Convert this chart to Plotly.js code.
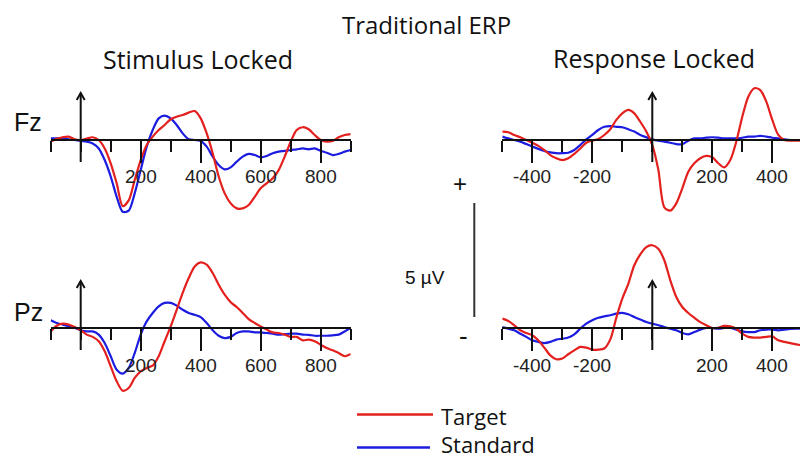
<!DOCTYPE html>
<html>
<head>
<meta charset="utf-8">
<script src="https://cdn.plot.ly/plotly-3.0.1.min.js"></script>
<style>html,body{margin:0;padding:0;background:#fff;}#chart{width:800px;height:458px;}</style>
</head>
<body>
<div id="chart"></div>
<script>
// ---------------- DATA (µV, ms) ----------------
const stimTime = [-100,-80,-60,-40,-20,0,20,40,60,80,100,120,140,160,180,200,220,240,260,280,300,320,340,360,380,400,420,440,460,480,500,520,540,560,580,600,620,640,660,680,700,720,740,760,780,800,820,840,860,880,900];
const respTime = [-500,-480,-460,-440,-420,-400,-380,-360,-340,-320,-300,-280,-260,-240,-220,-200,-180,-160,-140,-120,-100,-80,-60,-40,-20,0,20,40,60,80,100,120,140,160,180,200,220,240,260,280,300,320,340,360,380,400,420,440,460,480,500];

const stimFzTarget = [-0.07,0.05,0.12,0.15,0.03,0,0.06,0.12,0,-0.37,-1.02,-1.9,-2.9,-2.65,-1.75,-0.88,-0.22,0.15,0.44,0.66,0.91,1.02,1.1,1.2,1.27,0.95,0.29,-0.58,-1.6,-2.34,-2.78,-3.0,-3.0,-2.85,-2.49,-2.12,-1.9,-1.68,-1.32,-0.73,-0.07,0.44,0.56,0.47,0.22,0,-0.07,-0.04,0.12,0.22,0.26];
const stimFzStandard = [0.07,0.07,0.07,0.03,0,-0.04,-0.07,-0.15,-0.37,-0.88,-1.6,-2.49,-3.15,-3.1,-2.34,-1.32,-0.29,0.44,0.95,1.07,0.95,0.66,0.29,0.03,0,-0.04,-0.29,-0.73,-1.1,-1.29,-1.2,-0.95,-0.73,-0.61,-0.66,-0.76,-0.7,-0.58,-0.51,-0.48,-0.44,-0.41,-0.37,-0.41,-0.37,-0.47,-0.56,-0.66,-0.61,-0.51,-0.44];
const stimPzTarget = [-0.15,0.1,0.19,0.15,0.04,-0.1,-0.29,-0.39,-0.58,-1.02,-1.68,-2.34,-2.75,-2.63,-2.19,-1.9,-1.75,-1.65,-1.24,-0.58,0.07,0.8,1.54,2.19,2.7,2.88,2.78,2.41,1.9,1.46,1.13,0.92,0.66,0.39,0.22,0.07,-0.07,-0.19,-0.22,-0.29,-0.39,-0.39,-0.54,-0.51,-0.58,-0.73,-0.88,-0.98,-1.1,-1.24,-1.14];
const stimPzStandard = [0.34,0.22,0.15,0.07,0,-0.1,-0.15,-0.15,-0.29,-0.66,-1.24,-1.83,-2.0,-1.75,-1.1,-0.29,0.29,0.66,0.95,1.1,1.1,0.98,0.8,0.66,0.58,0.48,0.22,-0.1,-0.34,-0.44,-0.39,-0.22,-0.15,-0.15,-0.19,-0.19,-0.22,-0.25,-0.29,-0.27,-0.25,-0.25,-0.29,-0.3,-0.34,-0.34,-0.34,-0.32,-0.29,-0.15,0];
const respFzTarget = [0.37,0.34,0.22,0.12,0,-0.12,-0.26,-0.44,-0.66,-0.8,-0.88,-0.8,-0.61,-0.37,-0.12,-0.03,0.04,0.22,0.47,0.88,1.17,1.32,1.17,0.8,0.37,-0.22,-1.3,-2.95,-3.1,-2.78,-2.12,-1.39,-1.02,-0.8,-0.7,-0.76,-1.02,-1.2,-0.88,-0.07,1.02,1.9,2.27,2.19,1.68,0.88,0.22,0,-0.03,-0.03,-0.03];
const respFzStandard = [0.15,0.07,0,-0.07,-0.18,-0.29,-0.39,-0.48,-0.54,-0.58,-0.58,-0.56,-0.44,-0.22,0.03,0.22,0.44,0.58,0.61,0.58,0.56,0.47,0.37,0.22,0.12,0.03,-0.03,-0.07,-0.12,-0.18,-0.18,-0.03,0.07,0.07,0.1,0.12,0.1,0.07,0.07,0.07,0.1,0.15,0.15,0.18,0.15,0.1,0.07,0.03,0,0,0];
const respPzTarget = [0.41,0.31,0.12,-0.1,-0.22,-0.32,-0.54,-0.86,-1.2,-1.37,-1.34,-1.15,-0.98,-0.83,-0.86,-0.95,-0.95,-0.9,-0.5,0.45,1.29,1.94,2.75,3.23,3.55,3.63,3.48,2.97,2.09,1.36,0.92,0.66,0.45,0.26,0.12,0,0.01,0.09,0.07,-0.03,-0.25,-0.39,-0.42,-0.42,-0.39,-0.37,-0.54,-0.61,-0.66,-0.72,-0.76];
const respPzStandard = [0.04,-0.03,-0.1,-0.25,-0.39,-0.54,-0.61,-0.66,-0.61,-0.51,-0.47,-0.42,-0.28,-0.03,0.19,0.34,0.45,0.51,0.56,0.63,0.66,0.6,0.48,0.37,0.26,0.19,0.12,0.04,-0.03,-0.1,-0.22,-0.28,-0.18,-0.07,0,0,-0.03,0,0,-0.07,-0.15,-0.18,-0.18,-0.1,-0.07,-0.07,-0.1,-0.07,-0.04,-0.03,-0.03];

const stimMajorTicks = [200,400,600,800];
const stimMinorTicks = [-100,0,100,300,500,700,900];
const respMajorTicks = [-400,-200,200,400];
const respMinorTicks = [-500,-300,-100,0,100,300];
const stimTickText = ["200","400","600","800"];
const respTickText = ["-400","-200","200","400"];
const seriesNames = ["Target","Standard"];
const channelNames = ["Fz","Pz"];
const scaleLabel = "5 µV";
const scaleMicroVolts = 5;

// ---------------- GEOMETRY ----------------
const W = 800, H = 458;
const PX_PER_MS = 0.3, PX_PER_UV = 22.8;
const RED = "#e3201d", BLUE = "#1c1ce0", INK = "#111";
const stimZeroPx = 80.7, stimLeftPx = 50.7, stimRightPx = 350.7;
const respZeroPx = 652.3, respLeftPx = 502.3, respRightPx = 800;
const fzAxisPx = 140, fzTopPx = 82, fzBotPx = 225;
const pzAxisPx = 328, pzTopPx = 235, pzBotPx = 405;
const LABEL_DROP = 37;

function xRange(l, r, z){ return [(l - z)/PX_PER_MS, (r - z)/PX_PER_MS]; }
function yRange(t, b, a){ return [(a - b)/PX_PER_UV, (a - t)/PX_PER_UV]; }
const px = v => v / W, py = v => 1 - v / H;

const tickFont = {family: "Liberation Sans, Arial, sans-serif", size: 19, color: "#222"};
function xAxis(l, r, z, axisPx, major, minor){
  return {
    domain: [px(l), px(r)], range: xRange(l, r, z), anchor: "free", position: py(axisPx),
    showline: true, linecolor: INK, linewidth: 2, zeroline: false, showgrid: false,
    ticks: "outside", tickmode: "array", tickvals: major, showticklabels: false,
    ticklen: 22, tickwidth: 2, tickcolor: INK,
    minor: {tickmode: "array", tickvals: minor, ticks: "outside", ticklen: 11, tickwidth: 2, tickcolor: INK, showgrid: false},
    fixedrange: true
  };
}
function yAxis(t, b, a){
  return {domain: [py(b), py(t)], range: yRange(t, b, a), visible: false, fixedrange: true};
}

function trace(x, y, xa, ya, color, name){
  return {x: x, y: y, xaxis: xa, yaxis: ya, type: "scatter", mode: "lines", name: name,
    showlegend: false, hoverinfo: "skip",
    line: {color: color, width: 2.2, shape: "spline", smoothing: 0.8}};
}

const data = [
  trace(stimTime, stimFzStandard, "x", "y", BLUE, seriesNames[1]),
  trace(stimTime, stimFzTarget, "x", "y", RED, seriesNames[0]),
  trace(stimTime, stimPzStandard, "x2", "y2", BLUE, seriesNames[1]),
  trace(stimTime, stimPzTarget, "x2", "y2", RED, seriesNames[0]),
  trace(respTime, respFzStandard, "x3", "y3", BLUE, seriesNames[1]),
  trace(respTime, respFzTarget, "x3", "y3", RED, seriesNames[0]),
  trace(respTime, respPzStandard, "x4", "y4", BLUE, seriesNames[1]),
  trace(respTime, respPzTarget, "x4", "y4", RED, seriesNames[0])
];

// arrows at t = 0 (y-axis marker)
const shapes = [];
[["x","y"],["x2","y2"],["x3","y3"],["x4","y4"]].forEach(([xa, ya]) => {
  const ytop = 47/PX_PER_UV, ybot = -22/PX_PER_UV;
  const hw = 4/PX_PER_MS, hh = 7/PX_PER_UV;
  shapes.push({type: "line", xref: xa, yref: ya, x0: 0, x1: 0, y0: ybot, y1: ytop, line: {color: INK, width: 2}});
  shapes.push({type: "path", xref: xa, yref: ya,
    path: `M ${-hw},${ytop-hh} L 0,${ytop} L ${hw},${ytop-hh}`, line: {color: INK, width: 2}});
});
// scale bar (5 µV)
const barX = 474.3, barBottom = 317;
shapes.push({type: "line", xref: "paper", yref: "paper", x0: px(barX), x1: px(barX),
  y0: py(barBottom), y1: py(barBottom - scaleMicroVolts*PX_PER_UV), line: {color: "#333", width: 2}});
// legend lines
shapes.push({type: "line", xref: "paper", yref: "paper", x0: px(357), x1: px(433), y0: py(414.5), y1: py(414.5), line: {color: RED, width: 2.6}});
shapes.push({type: "line", xref: "paper", yref: "paper", x0: px(357), x1: px(430), y0: py(447.5), y1: py(447.5), line: {color: BLUE, width: 2.6}});

const titleFont = s => ({family: "Open Sans, Noto Sans, sans-serif", size: s, color: "#111"});
const helv = (s) => ({family: "Liberation Sans, Arial, sans-serif", size: s, color: "#111"});
function ann(text, x, y, font, xanchor){
  return {text: text, x: px(x), y: py(y), xref: "paper", yref: "paper", showarrow: false,
    xanchor: xanchor || "center", yanchor: "middle", font: font};
}
const annotations = [
  ann("Traditional ERP", 427, 24, titleFont(24)),
  ann("Stimulus Locked", 198, 59, titleFont(25)),
  ann("Response Locked", 654, 58.5, titleFont(25)),
  ann(channelNames[0], 28, 122, helv(25)),
  ann(channelNames[1], 28, 312, helv(25)),
  ann("+", 460, 183, helv(24)),
  ann("-", 464, 336, helv(26)),
  ann(scaleLabel, 425, 277, helv(19)),
  ann(seriesNames[0], 439, 416, titleFont(22), "left"),
  ann(seriesNames[1], 439, 443.5, titleFont(22), "left")
];
// tick labels placed on the axes' own scales
function tickLabels(vals, texts, xa, axisPx){
  vals.forEach((v, i) => annotations.push({text: texts[i], x: v, xref: xa, y: py(axisPx + LABEL_DROP), yref: "paper",
    showarrow: false, xanchor: "center", yanchor: "middle", font: tickFont}));
}
tickLabels(stimMajorTicks, stimTickText, "x", fzAxisPx);
tickLabels(stimMajorTicks, stimTickText, "x2", pzAxisPx);
tickLabels(respMajorTicks, respTickText, "x3", fzAxisPx);
tickLabels(respMajorTicks, respTickText, "x4", pzAxisPx);

const layout = {
  width: W, height: H, margin: {l: 0, r: 0, t: 0, b: 0},
  paper_bgcolor: "#fff", plot_bgcolor: "rgba(0,0,0,0)", showlegend: false,
  xaxis: xAxis(stimLeftPx, stimRightPx, stimZeroPx, fzAxisPx, stimMajorTicks, stimMinorTicks),
  xaxis2: xAxis(stimLeftPx, stimRightPx, stimZeroPx, pzAxisPx, stimMajorTicks, stimMinorTicks),
  xaxis3: xAxis(respLeftPx, respRightPx, respZeroPx, fzAxisPx, respMajorTicks, respMinorTicks),
  xaxis4: xAxis(respLeftPx, respRightPx, respZeroPx, pzAxisPx, respMajorTicks, respMinorTicks),
  yaxis: yAxis(fzTopPx, fzBotPx, fzAxisPx),
  yaxis2: yAxis(pzTopPx, pzBotPx, pzAxisPx),
  yaxis3: yAxis(fzTopPx, fzBotPx, fzAxisPx),
  yaxis4: yAxis(pzTopPx, pzBotPx, pzAxisPx),
  shapes: shapes, annotations: annotations
};
Plotly.newPlot("chart", data, layout, {staticPlot: true, displayModeBar: false});
</script>
</body>
</html>
